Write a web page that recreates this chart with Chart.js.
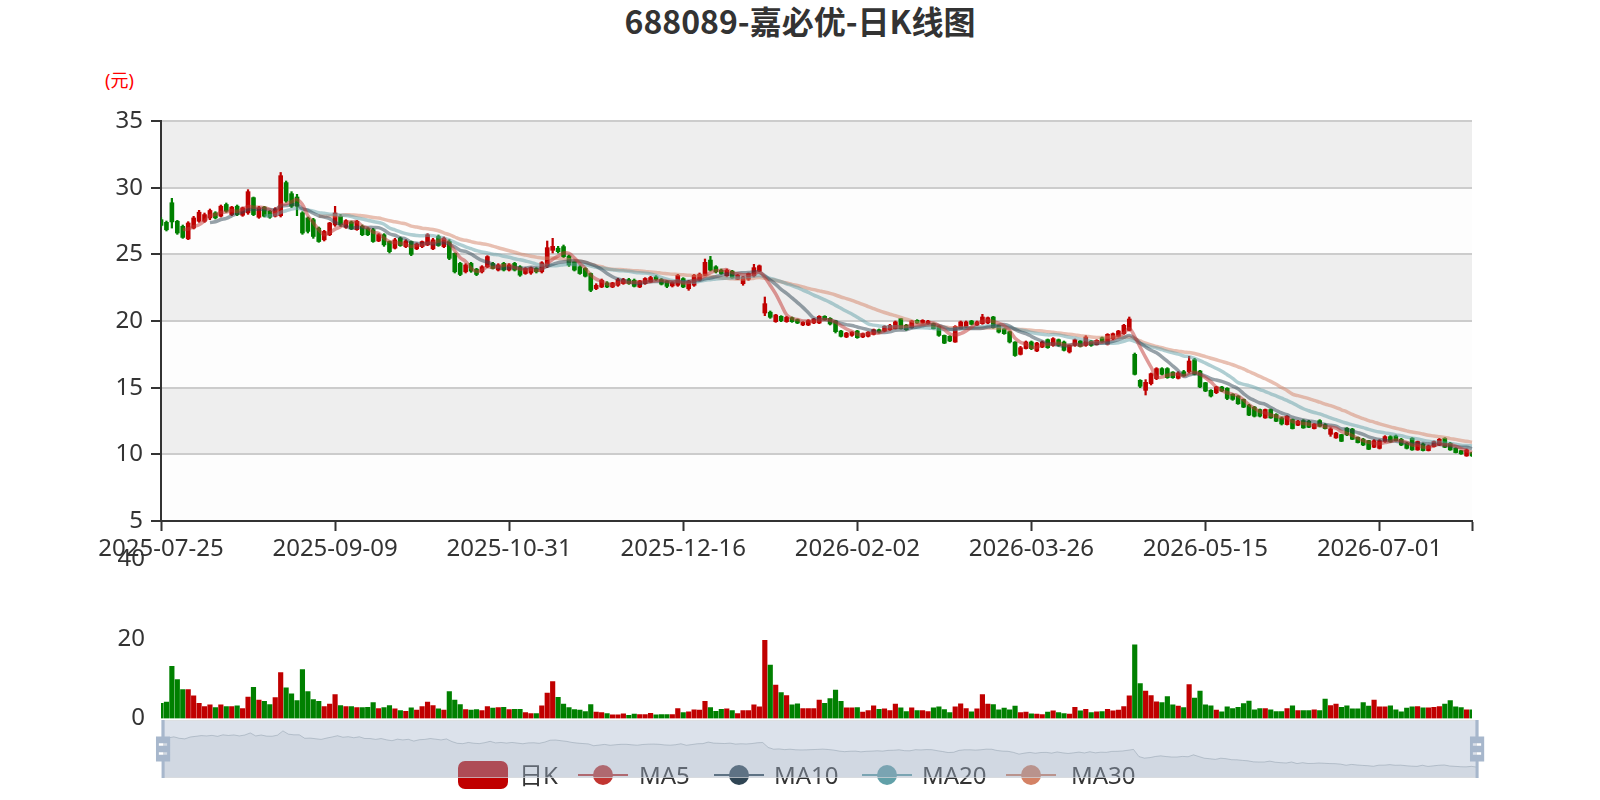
<!DOCTYPE html>
<html>
<head>
<meta charset="utf-8">
<title>688089-嘉必优-日K线图</title>
<script src="https://cdn.jsdelivr.net/npm/chart.js@4.4.1/dist/chart.umd.min.js"></script>
<style>
  html, body { margin: 0; padding: 0; background: #fff; }
  #page { position: relative; width: 1600px; height: 800px; overflow: hidden;
          font-family: "Noto Sans", "Noto Sans CJK SC", sans-serif; }
  #page canvas { position: absolute; left: 0; }
  #title { position: absolute; left: 0; top: -2px; width: 1600px; height: 45px; line-height: 45px;
           text-align: center; font-size: 32px; font-weight: bold; color: #333;
           font-family: "Noto Sans CJK SC", sans-serif; }
  #unit { position: absolute; left: 105px; top: 66px; font-size: 18px; line-height: 28px; color: #f00; }
  .lg { position: absolute; z-index: 1; }
  .lg-text { position: absolute; z-index: 1; top: 760px; font-size: 24px; line-height: 30px; color: #333; white-space: nowrap; }
</style>
</head>
<body>
<div id="page">
  <div id="title">688089-嘉必优-日K线图</div>
  <div id="unit">(元)</div>
  <canvas id="main" width="1600" height="580" style="top:0"></canvas>
  <canvas id="vol" width="1600" height="230" style="top:530px"></canvas>

  <!-- legend, sits under the slider -->
  <div class="lg" style="left:458px;top:761px;width:50px;height:28px;border-radius:7px;background:#c00000"></div>
  <div class="lg-text" style="left:519px">日K</div>
  <div class="lg" style="left:578px;top:774px;width:50px;height:2px;background:#c23531"></div>
  <div class="lg" style="left:593px;top:765px;width:20px;height:20px;border-radius:50%;background:#c23531"></div>
  <div class="lg-text" style="left:639px">MA5</div>
  <div class="lg" style="left:714px;top:774px;width:50px;height:2px;background:#2f4554"></div>
  <div class="lg" style="left:729px;top:765px;width:20px;height:20px;border-radius:50%;background:#2f4554"></div>
  <div class="lg-text" style="left:774px">MA10</div>
  <div class="lg" style="left:862px;top:774px;width:50px;height:2px;background:#61a0a8"></div>
  <div class="lg" style="left:877px;top:765px;width:20px;height:20px;border-radius:50%;background:#61a0a8"></div>
  <div class="lg-text" style="left:922px">MA20</div>
  <div class="lg" style="left:1006px;top:774px;width:50px;height:2px;background:#d48265"></div>
  <div class="lg" style="left:1021px;top:765px;width:20px;height:20px;border-radius:50%;background:#d48265"></div>
  <div class="lg-text" style="left:1071px">MA30</div>

  <canvas id="zoom" width="1600" height="70" style="top:716px;z-index:2"></canvas>
</div>

<script>
/* DATA */

// trading days: weekdays from the start date, minus exchange holidays
const startDate = '2025-07-25';
const tradingDayCount = 242;
const holidays = ['2025-10-01', '2025-10-02', '2025-10-03', '2025-10-06', '2025-10-07', '2025-10-08',
                  '2026-01-01', '2026-01-02', '2026-02-16', '2026-02-17', '2026-02-18', '2026-02-19',
                  '2026-02-20', '2026-02-23', '2026-04-06', '2026-05-01', '2026-05-04', '2026-05-05',
                  '2026-06-19'];
const labelEvery = 32;

const categories = [];
(function () {
    var d = new Date(startDate + 'T00:00:00Z');
    while (categories.length < tradingDayCount) {
        var s = d.toISOString().slice(0, 10);
        var wd = d.getUTCDay();
        if (wd !== 0 && wd !== 6 && holidays.indexOf(s) < 0) categories.push(s);
        d.setUTCDate(d.getUTCDate() + 1);
    }
})();

const opens = [
    27.60, 27.40, 28.87, 27.48, 27.10, 26.16, 26.97, 27.48, 27.48, 27.73,
    28.11, 27.86, 28.74, 27.98, 28.61, 27.93, 28.11, 29.25, 27.78, 28.54,
    28.23, 27.86, 27.90, 30.38, 29.55, 29.30, 28.11, 27.73, 27.60, 26.97,
    26.09, 26.47, 27.20, 27.85, 27.02, 27.43, 26.85, 27.10, 26.92, 26.85,
    26.00, 26.47, 25.96, 25.46, 26.22, 25.58, 25.96, 25.41, 25.58, 25.71,
    25.41, 26.34, 25.58, 25.96, 25.08, 24.32, 23.69, 24.32, 23.89, 23.69,
    24.07, 24.32, 23.82, 24.32, 23.82, 24.32, 24.07, 23.56, 23.60, 23.94,
    23.69, 24.10, 25.30, 25.46, 25.58, 24.88, 24.45, 24.07, 23.94, 23.56,
    22.43, 22.55, 22.86, 22.55, 22.68, 22.81, 23.11, 23.06, 22.55, 22.81,
    22.93, 23.31, 23.11, 23.00, 22.63, 22.68, 23.18, 22.42, 22.68, 23.06,
    23.43, 24.57, 24.07, 23.81, 23.38, 23.74, 23.13, 22.80, 23.13, 23.38,
    23.74, 20.60, 20.66, 19.95, 20.35, 19.95, 20.25, 20.10, 19.70, 19.70,
    19.85, 19.85, 20.35, 20.20, 20.00, 19.25, 18.80, 18.92, 19.25, 18.80,
    18.85, 19.00, 19.35, 19.25, 19.35, 19.42, 20.18, 19.68, 19.50, 20.05,
    19.85, 19.80, 19.80, 19.60, 18.92, 18.85, 18.42, 19.42, 19.55, 20.00,
    19.68, 19.80, 19.85, 20.30, 19.68, 19.42, 19.20, 18.42, 17.50, 17.93,
    18.43, 17.75, 18.05, 18.60, 18.17, 18.60, 18.43, 17.68, 18.17, 18.50,
    18.17, 18.50, 18.22, 18.75, 18.25, 18.67, 18.85, 19.05, 19.30, 17.50,
    15.55, 14.80, 15.30, 15.68, 16.43, 16.43, 16.17, 15.70, 16.20, 16.20,
    17.10, 16.25, 15.37, 14.80, 14.62, 15.05, 14.95, 14.50, 14.37, 14.12,
    13.69, 13.54, 13.36, 12.73, 13.36, 12.99, 12.73, 12.23, 12.61, 12.18,
    12.53, 12.48, 11.93, 12.53, 12.23, 11.50, 11.23, 11.48, 11.96, 11.89,
    11.28, 11.13, 11.03, 10.53, 10.45, 10.96, 11.33, 11.38, 11.13, 10.83,
    11.21, 10.33, 10.78, 10.28, 10.58, 10.70, 11.21, 10.83, 10.45, 10.28,
    9.88, 10.13
];

const closes = [
    27.17, 26.84, 27.43, 26.60, 26.27, 27.35, 27.73, 28.16, 27.98, 28.29,
    27.73, 28.61, 28.23, 28.54, 27.98, 28.49, 29.70, 27.98, 28.49, 27.86,
    27.78, 28.41, 30.90, 28.99, 28.61, 28.60, 26.60, 26.72, 26.34, 25.96,
    26.72, 27.35, 28.10, 27.22, 27.53, 26.92, 27.48, 26.47, 26.47, 25.96,
    26.47, 25.71, 25.20, 26.09, 25.66, 26.01, 25.00, 25.76, 25.96, 26.47,
    26.09, 25.66, 26.22, 24.70, 23.69, 23.49, 24.20, 23.74, 23.49, 24.07,
    24.83, 23.94, 24.20, 23.82, 24.20, 23.82, 23.44, 23.94, 24.00, 23.69,
    24.37, 25.50, 25.60, 25.20, 24.83, 24.20, 23.82, 23.56, 23.36, 22.30,
    22.68, 23.06, 22.55, 22.86, 23.11, 23.11, 22.81, 22.60, 23.00, 23.19,
    23.26, 23.11, 22.76, 22.60, 22.88, 23.43, 22.55, 22.98, 23.43, 23.51,
    24.40, 23.81, 23.69, 23.56, 23.81, 23.23, 23.43, 23.31, 23.56, 24.00,
    24.14, 21.30, 20.28, 20.45, 20.03, 20.28, 19.95, 19.85, 19.90, 20.03,
    20.15, 20.35, 20.10, 19.77, 19.20, 18.85, 19.10, 19.17, 18.75, 19.05,
    19.17, 19.35, 19.17, 19.60, 19.68, 19.93, 19.42, 19.35, 20.00, 19.85,
    20.05, 20.00, 19.42, 18.92, 18.34, 18.50, 19.60, 19.93, 19.93, 19.75,
    19.93, 20.30, 20.25, 19.50, 19.17, 19.05, 18.43, 17.41, 18.00, 18.43,
    17.93, 18.35, 18.43, 18.00, 18.68, 18.17, 17.80, 18.17, 18.60, 18.10,
    18.80, 18.17, 18.55, 18.43, 19.00, 19.05, 19.25, 19.68, 20.15, 16.00,
    15.10, 15.40, 16.05, 16.43, 16.00, 15.75, 15.75, 16.10, 15.90, 17.00,
    16.00, 15.05, 14.75, 14.37, 15.05, 14.75, 14.19, 14.12, 13.79, 13.54,
    12.94, 12.86, 12.86, 13.36, 12.73, 12.48, 12.28, 12.86, 11.93, 12.48,
    11.98, 12.03, 12.28, 12.11, 11.93, 11.90, 11.60, 10.98, 11.46, 11.13,
    10.88, 10.70, 10.38, 11.03, 11.03, 11.33, 10.96, 11.03, 10.70, 10.45,
    10.33, 10.96, 10.28, 10.63, 10.96, 11.13, 10.53, 10.33, 10.13, 10.03,
    10.33, 9.88
];

const lows = [
    27.05, 26.75, 26.97, 26.50, 26.20, 26.10, 26.90, 27.40, 27.40, 27.60,
    27.65, 27.80, 28.15, 27.90, 27.90, 27.85, 28.00, 27.90, 27.70, 27.80,
    27.70, 27.80, 27.80, 28.90, 28.50, 27.90, 26.50, 26.60, 26.20, 25.90,
    26.00, 26.40, 27.10, 27.10, 26.95, 26.85, 26.80, 26.40, 26.40, 25.90,
    25.95, 25.60, 25.10, 25.40, 25.60, 25.50, 24.90, 25.35, 25.50, 25.65,
    25.35, 25.60, 25.50, 24.60, 23.60, 23.40, 23.60, 23.65, 23.40, 23.60,
    24.00, 23.90, 23.75, 23.75, 23.75, 23.75, 23.35, 23.50, 23.50, 23.60,
    23.60, 24.00, 25.10, 25.10, 24.75, 24.10, 23.75, 23.50, 23.30, 22.20,
    22.35, 22.50, 22.50, 22.50, 22.60, 22.75, 22.75, 22.55, 22.50, 22.75,
    22.90, 23.05, 22.70, 22.50, 22.55, 22.60, 22.50, 22.30, 22.60, 23.00,
    23.40, 23.75, 23.60, 23.50, 23.30, 23.20, 23.10, 22.68, 23.05, 23.30,
    23.70, 20.40, 20.20, 19.90, 19.95, 19.90, 19.90, 19.80, 19.65, 19.65,
    19.80, 19.80, 20.05, 19.70, 19.10, 18.80, 18.75, 18.85, 18.70, 18.75,
    18.80, 18.95, 19.10, 19.20, 19.30, 19.40, 19.40, 19.30, 19.45, 19.80,
    19.80, 19.75, 19.40, 18.85, 18.30, 18.45, 18.40, 19.40, 19.50, 19.70,
    19.65, 19.75, 19.80, 19.45, 19.10, 19.00, 18.35, 17.35, 17.45, 17.90,
    17.85, 17.70, 18.00, 17.95, 18.10, 18.10, 17.75, 17.60, 18.10, 18.05,
    18.10, 18.10, 18.20, 18.40, 18.20, 18.60, 18.80, 19.00, 19.25, 15.95,
    15.00, 14.45, 15.20, 15.60, 15.95, 15.70, 15.70, 15.65, 15.85, 16.10,
    15.95, 15.00, 14.70, 14.30, 14.55, 14.70, 14.10, 14.05, 13.75, 13.50,
    12.90, 12.80, 12.80, 12.70, 12.70, 12.45, 12.20, 12.20, 11.90, 12.15,
    11.95, 12.00, 11.90, 12.05, 11.90, 11.35, 11.20, 10.95, 11.40, 11.10,
    10.85, 10.65, 10.35, 10.50, 10.40, 10.90, 10.90, 11.00, 10.65, 10.40,
    10.30, 10.30, 10.25, 10.25, 10.55, 10.65, 10.50, 10.30, 10.10, 10.00,
    9.85, 9.85
];

const highs = [
    27.75, 27.50, 29.20, 27.55, 27.20, 27.45, 27.85, 28.30, 28.10, 28.40,
    28.20, 28.70, 28.85, 28.60, 28.70, 28.55, 29.85, 29.30, 28.60, 28.60,
    28.30, 28.50, 31.14, 30.50, 29.70, 29.50, 28.20, 27.80, 27.70, 27.05,
    26.80, 27.40, 28.60, 28.00, 27.60, 27.50, 27.55, 27.20, 27.00, 26.95,
    26.55, 26.55, 26.00, 26.20, 26.30, 26.10, 26.00, 25.85, 26.00, 26.55,
    26.20, 26.45, 26.30, 26.10, 25.10, 24.40, 24.30, 24.40, 23.95, 24.15,
    24.90, 24.40, 24.30, 24.40, 24.30, 24.40, 24.15, 24.00, 24.05, 24.00,
    24.45, 26.00, 26.20, 25.60, 25.70, 24.95, 24.50, 24.15, 24.00, 23.60,
    22.80, 23.15, 22.95, 22.90, 23.20, 23.20, 23.20, 23.15, 23.05, 23.25,
    23.35, 23.40, 23.20, 23.05, 22.95, 23.50, 23.25, 23.05, 23.50, 23.60,
    24.65, 24.85, 24.15, 23.90, 23.90, 23.80, 23.50, 23.35, 23.60, 24.25,
    24.20, 21.80, 20.75, 20.50, 20.40, 20.35, 20.30, 20.15, 19.95, 20.10,
    20.20, 20.40, 20.40, 20.25, 20.05, 19.30, 19.15, 19.20, 19.30, 19.10,
    19.20, 19.40, 19.40, 19.65, 19.75, 20.00, 20.20, 19.75, 20.05, 20.10,
    20.10, 20.05, 19.85, 19.65, 18.95, 18.90, 19.65, 20.00, 20.00, 20.05,
    20.00, 20.50, 20.30, 20.35, 19.70, 19.45, 19.25, 18.45, 18.10, 18.50,
    18.50, 18.40, 18.50, 18.65, 18.75, 18.65, 18.50, 18.20, 18.65, 18.55,
    18.90, 18.55, 18.60, 18.80, 19.05, 19.10, 19.30, 19.75, 20.30, 17.60,
    15.60, 15.60, 16.10, 16.50, 16.50, 16.50, 16.20, 16.20, 16.30, 17.35,
    17.20, 16.30, 15.40, 14.85, 15.10, 15.10, 15.00, 14.55, 14.40, 14.15,
    13.75, 13.60, 13.40, 13.40, 13.40, 13.05, 12.80, 12.90, 12.65, 12.55,
    12.60, 12.55, 12.30, 12.60, 12.30, 12.00, 11.65, 11.50, 12.00, 11.95,
    11.30, 11.20, 11.05, 11.10, 11.10, 11.40, 11.40, 11.45, 11.20, 10.90,
    11.25, 11.00, 10.85, 10.70, 11.00, 11.20, 11.25, 10.90, 10.50, 10.30,
    10.40, 10.15
];

// volume, read against the 0-20-40 axis
const volumes = [
    3.8, 4.1, 13.1, 9.75, 7.25, 7.25, 5.7, 3.8, 3.0, 3.4,
    2.75, 3.4, 3.0, 3.0, 3.2, 2.5, 5.4, 7.8, 4.6, 4.3,
    3.5, 5.25, 11.5, 7.7, 6.2, 4.5, 12.25, 6.75, 4.75, 4.3,
    3.0, 3.6, 6.0, 3.25, 3.0, 3.0, 2.75, 2.75, 2.8, 4.0,
    2.5, 2.75, 3.25, 2.4, 2.0, 1.8, 2.7, 2.1, 3.0, 4.1,
    3.25, 2.4, 2.1, 6.75, 4.6, 3.5, 2.25, 2.1, 2.25, 2.0,
    3.0, 2.6, 2.75, 2.8, 2.25, 2.3, 2.3, 1.5, 1.25, 1.25,
    3.2, 6.4, 9.25, 5.3, 3.6, 2.75, 2.25, 2.1, 1.75, 3.5,
    1.6, 1.5, 1.25, 0.9, 0.9, 1.2, 0.8, 1.1, 1.0, 1.0,
    1.3, 0.9, 1.0, 1.0, 1.0, 2.5, 1.5, 1.7, 2.2, 2.1,
    4.3, 2.75, 1.8, 2.3, 2.4, 2.0, 1.25, 2.0, 2.0, 3.4,
    2.9, 19.6, 13.4, 8.4, 6.5, 5.75, 3.4, 3.7, 2.5, 2.5,
    2.5, 4.6, 3.8, 5.0, 7.1, 4.3, 2.7, 2.7, 2.75, 1.6,
    2.0, 3.2, 2.3, 2.4, 2.0, 3.6, 2.7, 1.75, 2.7, 2.0,
    2.0, 1.75, 2.7, 2.9, 2.25, 1.5, 2.9, 3.7, 2.5, 1.7,
    2.4, 6.0, 3.6, 3.5, 2.2, 2.6, 2.2, 3.1, 1.5, 1.6,
    1.2, 1.1, 1.0, 1.6, 1.9, 1.5, 1.25, 1.1, 2.8, 1.9,
    2.3, 1.5, 1.7, 1.75, 2.3, 1.9, 2.1, 3.0, 5.7, 18.5,
    8.75, 6.9, 5.75, 4.2, 4.0, 5.5, 3.4, 3.1, 2.75, 8.5,
    5.1, 6.9, 3.4, 3.2, 2.1, 1.7, 2.9, 2.5, 2.8, 3.75,
    4.4, 2.2, 2.5, 2.5, 2.2, 1.75, 1.75, 2.5, 3.2, 2.0,
    2.0, 2.0, 2.2, 2.0, 4.9, 3.25, 3.6, 2.8, 3.2, 2.4,
    2.4, 4.0, 3.1, 4.6, 2.9, 2.9, 3.2, 2.2, 1.7, 2.6,
    2.9, 3.0, 2.7, 2.7, 2.8, 3.0, 3.6, 4.5, 2.9, 2.75,
    2.2, 2.2
];

/* HELPERS */

// moving average of the close, empty until the window is full
function movingAverage(dayCount) {
    return closes.map(function (c, i) {
        if (i < dayCount - 1) return null;
        var sum = 0;
        for (var j = i - dayCount + 1; j <= i; j++) sum += closes[j];
        return +(sum / dayCount).toFixed(2);
    });
}

const upColor = '#c00000';
const downColor = '#008000';
const candleColors = opens.map(function (o, i) { return closes[i] >= o ? upColor : downColor; });

Chart.defaults.font.family = '"Noto Sans", "Noto Sans CJK SC", sans-serif';
Chart.defaults.color = '#333';
Chart.defaults.animation = false;

/* PLUGINS */

// alternating horizontal bands behind the price grid
const splitAreaPlugin = {
    id: 'splitArea',
    beforeDraw(chart) {
        var ctx = chart.ctx, a = chart.chartArea, y = chart.scales.y;
        var n = 0;
        for (var v = y.min; v < y.max; v += 5, n++) {
            var top = y.getPixelForValue(v + 5), bottom = y.getPixelForValue(v);
            ctx.fillStyle = n % 2 === 0 ? 'rgba(250,250,250,0.3)' : 'rgba(200,200,200,0.3)';
            ctx.fillRect(a.left, top, a.right - a.left, bottom - top);
        }
    }
};

// the range slider: filler band and the two handles
const handlePath = new Path2D('M8.2,13.6V3.9H6.3v9.7H3.1v14.9h3.3v9.7h1.8v-9.7h3.3V13.6H8.2z M9.7,24.4H4.8v-1.4h4.9V24.4z M9.7,19.1H4.8v-1.4h4.9V19.1z');
const sliderPlugin = {
    id: 'slider',
    afterDatasetsDraw(chart) {
        var ctx = chart.ctx, a = chart.chartArea;
        ctx.save();
        ctx.fillStyle = 'rgba(167,183,204,0.4)';
        ctx.fillRect(a.left, a.top, a.right - a.left, a.bottom - a.top);
        ctx.strokeStyle = 'rgba(221,221,221,0.6)';
        ctx.lineWidth = 1;
        ctx.strokeRect(a.left + 0.5, a.top + 0.5, a.right - a.left - 1, a.bottom - a.top - 1);
        var s = (a.bottom - a.top) / 34.3;
        [a.left, a.right].forEach(function (x) {
            ctx.save();
            ctx.translate(x - 7.25 * s, a.top - 3.9 * s);
            ctx.scale(s, s);
            ctx.fillStyle = '#a7b7cc';
            ctx.fill(handlePath, 'evenodd');
            ctx.restore();
        });
        ctx.restore();
    }
};

/* MAIN CHART */

new Chart(document.getElementById('main'), {
    type: 'bar',
    data: {
        labels: categories,
        datasets: [
            {
                label: '日K',
                data: opens.map(function (o, i) { return [o, closes[i]]; }),
                backgroundColor: candleColors,
                barThickness: 4,
                minBarLength: 2,
                grouped: false,
                order: 2
            },
            {
                label: 'shadow',
                data: lows.map(function (l, i) { return [l, highs[i]]; }),
                backgroundColor: candleColors,
                barThickness: 1.6,
                grouped: false,
                order: 3
            },
            { type: 'line', label: 'MA5', data: movingAverage(5), borderColor: 'rgba(194,53,49,0.5)',
              borderWidth: 3.5, pointRadius: 0, tension: 0.4, order: 1 },
            { type: 'line', label: 'MA10', data: movingAverage(10), borderColor: 'rgba(47,69,84,0.5)',
              borderWidth: 3.5, pointRadius: 0, tension: 0.4, order: 1 },
            { type: 'line', label: 'MA20', data: movingAverage(20), borderColor: 'rgba(97,160,168,0.5)',
              borderWidth: 3.5, pointRadius: 0, tension: 0.4, order: 1 },
            { type: 'line', label: 'MA30', data: movingAverage(30), borderColor: 'rgba(212,130,101,0.5)',
              borderWidth: 3.5, pointRadius: 0, tension: 0.4, order: 1 }
        ]
    },
    options: {
        responsive: false,
        events: [],
        layout: { padding: { top: 121, right: 128, bottom: 14, left: 0 } },
        plugins: { legend: { display: false }, tooltip: { enabled: false } },
        scales: {
            x: {
                offset: false,
                grid: { display: true, offset: false, drawOnChartArea: false, tickLength: 10, tickColor: '#333', tickWidth: 2 },
                border: { display: true, color: '#333', width: 2 },
                ticks: {
                    autoSkip: false, maxRotation: 0, padding: 4,
                    font: { size: 24 }, color: '#333',
                    callback: function (value, index) {
                        if (index % labelEvery === 0) return categories[index];
                        if (index === categories.length - 1) return '';
                        return null;
                    }
                },
                afterFit: function (scale) { scale.height = 45; }
            },
            y: {
                min: 5, max: 35,
                ticks: { stepSize: 5, font: { size: 24 }, color: '#333', padding: 8 },
                grid: { color: '#ccc', lineWidth: 2, tickColor: '#333', tickLength: 10, tickWidth: 2 },
                border: { display: true, color: '#333', width: 2 },
                afterFit: function (scale) { scale.width = 161; }
            }
        }
    },
    plugins: [splitAreaPlugin]
});

/* VOLUME CHART */

new Chart(document.getElementById('vol'), {
    type: 'bar',
    data: {
        labels: categories,
        datasets: [{ label: 'volume', data: volumes, backgroundColor: candleColors, barThickness: 4.5 }]
    },
    options: {
        responsive: false,
        events: [],
        layout: { padding: { top: 29, right: 128, bottom: 41.5, left: 0 } },
        plugins: { legend: { display: false }, tooltip: { enabled: false } },
        scales: {
            x: { offset: false, display: false },
            y: {
                min: 0, max: 40,
                ticks: { stepSize: 20, font: { size: 24 }, color: '#333', padding: 8 },
                grid: { display: false },
                border: { display: false },
                afterFit: function (scale) { scale.width = 161; }
            }
        }
    }
});

/* RANGE SLIDER */

var cMin = Math.min.apply(null, closes), cMax = Math.max.apply(null, closes);
var cPad = (cMax - cMin) * 0.3;

new Chart(document.getElementById('zoom'), {
    type: 'line',
    data: {
        labels: categories,
        datasets: [{
            data: closes,
            borderColor: 'rgba(47,69,84,0.3)',
            borderWidth: 1,
            backgroundColor: 'rgba(47,69,84,0.09)',
            fill: 'start',
            pointRadius: 0,
            tension: 0
        }]
    },
    options: {
        responsive: false,
        events: [],
        layout: { padding: { top: 4, right: 123, bottom: 8, left: 163 } },
        plugins: { legend: { display: false }, tooltip: { enabled: false } },
        scales: {
            x: { offset: false, display: false },
            y: { display: false, min: cMin - cPad, max: cMax + cPad }
        }
    },
    plugins: [sliderPlugin]
});
</script>
</body>
</html>
